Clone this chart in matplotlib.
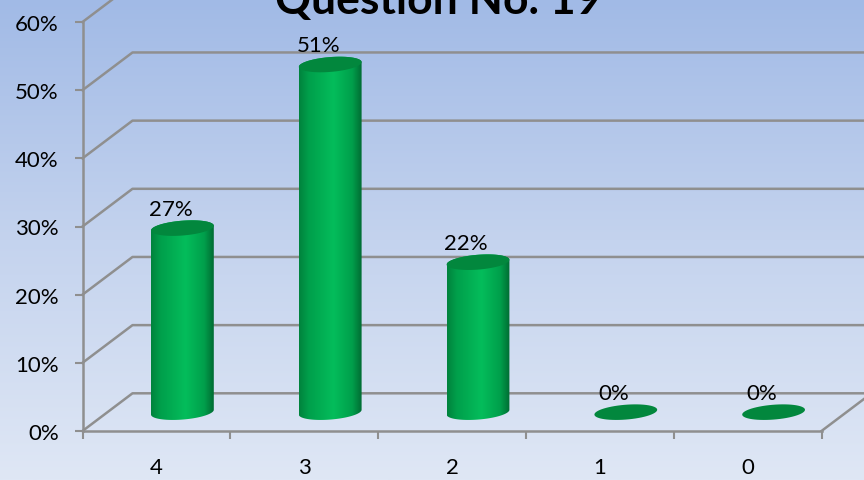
import numpy as np
import matplotlib
matplotlib.use('Agg')
import matplotlib.pyplot as plt
from matplotlib.colors import LinearSegmentedColormap
from matplotlib.patches import PathPatch, Polygon
from matplotlib.path import Path

categories = ['4', '3', '2', '1', '0']
values = [27, 51, 22, 0, 0]
y_ticks = [0, 10, 20, 30, 40, 50, 60]

plt.rcParams['font.family'] = ['Lato', 'DejaVu Sans']

W, H = 864, 481
LEFT, RIGHT, BOTTOM, TOP = 82.5, 821.5, 432, 23
GREY = '#8f8f8f'

px_x = 5 / (RIGHT - LEFT)
px_y = 60 / (BOTTOM - TOP)
depth_x = 50 * px_x
depth_y = 37.7 * px_y

fig = plt.figure(figsize=(W / 100, H / 100), dpi=100)

# background gradient
bg = fig.add_axes([0, 0, 1, 1], zorder=0)
bg_cmap = LinearSegmentedColormap.from_list('bg', ['#a1bae6', '#c4d3ee', '#dfe7f5'])
bg.imshow(np.linspace(0, 1, 256).reshape(-1, 1), cmap=bg_cmap, aspect='auto')
bg.axis('off')

ax = fig.add_axes([LEFT / W, 1 - BOTTOM / H, (RIGHT - LEFT) / W, (BOTTOM - TOP) / H], zorder=1)
ax.patch.set_alpha(0)
ax.set_xlim(0, 5)
ax.set_ylim(0, 60)

# back wall and floor lines
for v in y_ticks:
    ax.plot([0, depth_x, 5 + depth_x + 1], [v, v + depth_y, v + depth_y],
            color=GREY, lw=1.8, clip_on=False, zorder=1)
ax.plot([5, 5 + depth_x], [0, depth_y], color=GREY, lw=1.8, clip_on=False, zorder=1)

bar_cmap = LinearSegmentedColormap.from_list(
    'bar', [(0, '#00833d'), (0.15, '#009f4b'), (0.55, '#04bd5b'), (0.85, '#009f4b'), (1, '#006c33')])


def ellipse_points(cx, cy, start, stop):
    # slightly tilted ellipse lying on the floor of the bar
    a, b, tilt = 31.5, 7.4, np.radians(4.6)
    t = np.linspace(start, stop, 60)
    ex = a * np.cos(t)
    ey = b * np.sin(t)
    px = ex * np.cos(tilt) - ey * np.sin(tilt)
    py = ex * np.sin(tilt) + ey * np.cos(tilt)
    return np.column_stack([cx + px * px_x, cy + py * px_y])


for i, v in enumerate(values):
    cx = i + 0.5 + depth_x / 2 + 1 * px_x
    base = depth_y / 2
    top = base + v
    if v > 0:
        lower = ellipse_points(cx, base, np.pi, 2 * np.pi)
        upper = ellipse_points(cx, top, 0, np.pi)
        body = PathPatch(Path(np.vstack([lower, upper, lower[:1]])), fc='none', ec='none',
                         transform=ax.transData, clip_on=False)
        ax.add_patch(body)
        im = ax.imshow(np.linspace(0, 1, 128).reshape(1, -1), cmap=bar_cmap, aspect='auto',
                       extent=[cx - 31.5 * px_x, cx + 31.5 * px_x, base - 3, top + 3],
                       zorder=2, clip_on=True)
        im.set_clip_path(body)
    cap = ellipse_points(cx, top, 0, 2 * np.pi)
    ax.add_patch(Polygon(cap, closed=True, fc='#02873d', ec='none', zorder=3, clip_on=False))
    ax.text(cx - 12 * px_x, top + 19 * px_y, f'{v}%', ha='center', va='center',
            fontsize=16, color='black', zorder=4, clip_on=False)

ax.set_xlim(0, 5)
ax.set_ylim(0, 60)

for side in ['top', 'right']:
    ax.spines[side].set_visible(False)
for side in ['left', 'bottom']:
    ax.spines[side].set_color(GREY)
    ax.spines[side].set_linewidth(1.8)
    ax.spines[side].set_zorder(1.5)

ax.set_yticks(y_ticks)
ax.set_yticklabels([f'{v}%' for v in y_ticks], fontsize=16)
ax.set_xticks(range(6))
ax.set_xticklabels([])
ax.set_xticks(np.arange(5) + 0.5, labels=categories, minor=True, fontsize=16)
ax.tick_params(axis='y', color=GREY, width=1.5, length=6, pad=11)
ax.tick_params(axis='x', which='major', color=GREY, width=1.5, length=6)
ax.tick_params(axis='x', which='minor', length=0, pad=19)

fig.text(438 / W, 1 - 14 / H, 'Question No. 19', ha='center', va='baseline',
         fontsize=32, fontweight='bold', color='black', zorder=5)

fig.savefig('out.png', dpi=100)
